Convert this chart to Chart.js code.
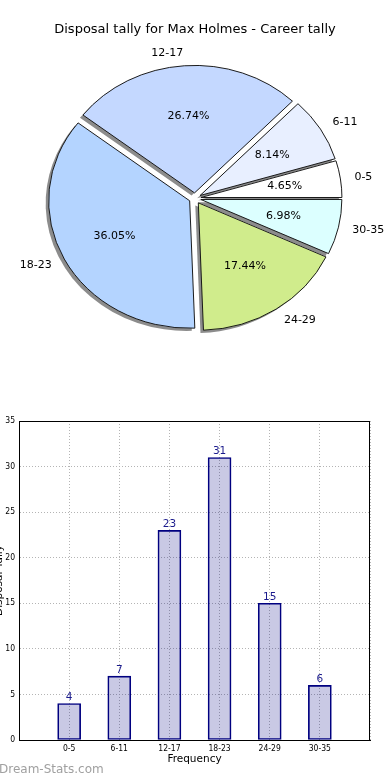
<!DOCTYPE html>
<html>
<head>
<meta charset="utf-8">
<script src="https://cdn.jsdelivr.net/npm/chart.js@4.4.0/dist/chart.umd.min.js"></script>
<style>
  body { margin: 0; background: #fff; width: 390px; height: 780px; overflow: hidden; position: relative; }
  canvas { position: absolute; }
  #pieChart { left: 0; top: 0; }
  #barChart { left: -10px; top: 400px; }
  #mark { position: absolute; left: -1px; top: 762px; font: 12px 'DejaVu Sans', sans-serif; color: #a0a0a0; }
</style>
</head>
<body>
<canvas id="pieChart" width="390" height="400"></canvas>
<canvas id="barChart" width="400" height="380"></canvas>
<div id="mark">Dream-Stats.com</div>
<script>
var categories = ['0-5', '6-11', '12-17', '18-23', '24-29', '30-35'];
var tally = [4, 7, 23, 31, 15, 6];
var sliceColors = ['#ffffff', '#e8efff', '#c4d8ff', '#b4d4ff', '#d0ec8c', '#dcffff'];
var yTicks = [0, 5, 10, 15, 20, 25, 30, 35];

var total = tally.reduce(function (a, b) { return a + b; }, 0);
var FONT = "'DejaVu Sans', sans-serif";
var SMALL = "'DejaVu Sans Condensed', 'Liberation Sans Narrow', 'DejaVu Sans', sans-serif";

// matplotlib draws counter-clockwise from 3 o'clock, chart.js clockwise -> reverse
var pieLabels = categories.slice().reverse();
var pieValues = tally.slice().reverse();
var pieColors = sliceColors.slice().reverse();

var SY = 0.904;     // pie axes were not square, so the pie is a bit flat
var EXPLODE = 6;
var SHADOW = 3;

function pieCenterY(chart) {
  return (chart.chartArea.top + chart.chartArea.bottom) / 2;
}

var pieDecor = {
  id: 'pieDecor',
  afterUpdate: function (chart) {
    chart.getDatasetMeta(0).data.forEach(function (a) {
      var mid = (a.startAngle + a.endAngle) / 2;
      a.x += EXPLODE * Math.cos(mid);
      a.y += EXPLODE * Math.sin(mid);
    });
  },
  beforeDatasetsDraw: function (chart) {
    var ctx = chart.ctx;
    var cy = pieCenterY(chart);
    ctx.save();
    ctx.translate(0, cy);
    ctx.scale(1, SY);
    ctx.translate(0, -cy);
    chart.getDatasetMeta(0).data.forEach(function (a) {
      var x = a.x - SHADOW, y = a.y + SHADOW;
      ctx.beginPath();
      ctx.moveTo(x, y);
      ctx.arc(x, y, a.outerRadius, a.startAngle, a.endAngle);
      ctx.closePath();
      ctx.fillStyle = '#8c8c8c';
      ctx.fill();
    });
  },
  afterDatasetsDraw: function (chart) {
    var ctx = chart.ctx;
    ctx.restore();
    var cy = pieCenterY(chart);
    ctx.save();
    ctx.fillStyle = '#000';
    ctx.font = '11px ' + FONT;
    ctx.textBaseline = 'middle';
    chart.getDatasetMeta(0).data.forEach(function (a, i) {
      var mid = (a.startAngle + a.endAngle) / 2;
      var c = Math.cos(mid), s = Math.sin(mid);
      var r = a.outerRadius;
      var lx = a.x + 1.1 * r * c;
      var ly = cy + (a.y + 1.1 * r * s - cy) * SY;
      ctx.textAlign = c > 0 ? 'left' : 'right';
      ctx.fillText(pieLabels[i], lx, ly);
      var px = a.x + 0.6 * r * c;
      var py = cy + (a.y + 0.6 * r * s - cy) * SY;
      ctx.textAlign = 'center';
      ctx.fillText((pieValues[i] / total * 100).toFixed(2) + '%', px, py);
    });
    ctx.restore();
  }
};

new Chart(document.getElementById('pieChart'), {
  type: 'pie',
  data: {
    labels: pieLabels,
    datasets: [{
      data: pieValues,
      backgroundColor: pieColors,
      borderColor: '#111',
      borderWidth: 1,
      offset: 0,
      clip: false
    }]
  },
  options: {
    responsive: false,
    animation: false,
    events: [],
    rotation: 90,
    radius: 141,
    layout: { padding: { top: 0, bottom: 41, left: 0, right: 0 } },
    plugins: {
      legend: { display: false },
      tooltip: { enabled: false },
      title: {
        display: true,
        text: 'Disposal tally for Max Holmes - Career tally',
        color: '#000',
        font: { family: FONT, size: 13, weight: 'normal' },
        padding: { top: 22, bottom: 0 }
      }
    }
  },
  plugins: [pieDecor]
});

var barDecor = {
  id: 'barDecor',
  afterDatasetsDraw: function (chart) {
    var ctx = chart.ctx;
    var area = chart.chartArea;
    ctx.save();
    ctx.strokeStyle = '#000';
    ctx.lineWidth = 1;
    ctx.strokeRect(Math.round(area.left) + 0.5, Math.round(area.top) + 0.5,
      Math.round(area.right - area.left) - 1, Math.round(area.bottom - area.top));
    ctx.fillStyle = '#1a1a8c';
    ctx.font = '10.5px ' + FONT;
    ctx.textAlign = 'center';
    ctx.textBaseline = 'bottom';
    chart.getDatasetMeta(0).data.forEach(function (bar, i) {
      ctx.fillText(String(tally[i]), bar.x, bar.y - 1);
    });
    ctx.restore();
  }
};

new Chart(document.getElementById('barChart'), {
  type: 'bar',
  data: {
    datasets: [{
      data: categories.map(function (c, i) { return { x: i, y: tally[i] }; }),
      backgroundColor: 'rgba(0, 0, 128, 0.21)',
      borderColor: '#000080',
      borderWidth: 1,
      borderSkipped: false,
      barThickness: 23
    }]
  },
  options: {
    responsive: false,
    animation: false,
    events: [],
    layout: { padding: { top: 21, right: 20, bottom: 14, left: 0 } },
    plugins: { legend: { display: false }, tooltip: { enabled: false } },
    scales: {
      x: {
        type: 'linear',
        offset: false,
        min: -1,
        max: categories.length,
        afterBuildTicks: function (scale) {
          var t = [{ value: -1 }];
          categories.forEach(function (c, i) { t.push({ value: i }); });
          t.push({ value: categories.length });
          scale.ticks = t;
        },
        afterFit: function (scale) { scale.height = 26; },
        ticks: {
          autoSkip: false,
          maxRotation: 0,
          padding: 4,
          color: '#000',
          font: { family: SMALL, size: 8.5 },
          callback: function (v) { return categories[v] || ''; }
        },
        grid: { color: '#b4b4b4', drawTicks: false, offset: false },
        border: { color: '#000', dash: [1, 2] },
        title: {
          display: true,
          text: 'Frequency',
          color: '#000',
          font: { family: FONT, size: 10.5 },
          padding: { top: 0, bottom: 0 }
        }
      },
      y: {
        min: 0,
        max: 35,
        afterBuildTicks: function (scale) {
          scale.ticks = yTicks.map(function (v) { return { value: v }; });
        },
        afterFit: function (scale) { scale.width = 29; },
        ticks: {
          padding: 4,
          color: '#000',
          font: { family: SMALL, size: 8.5 }
        },
        grid: { color: '#b4b4b4', drawTicks: false },
        border: { color: '#000', dash: [1, 2] },
        title: {
          display: true,
          text: 'Disposal Tally',
          color: '#000',
          font: { family: FONT, size: 10.5 },
          padding: { top: 3, bottom: 0 }
        }
      }
    }
  },
  plugins: [barDecor]
});
</script>
</body>
</html>
